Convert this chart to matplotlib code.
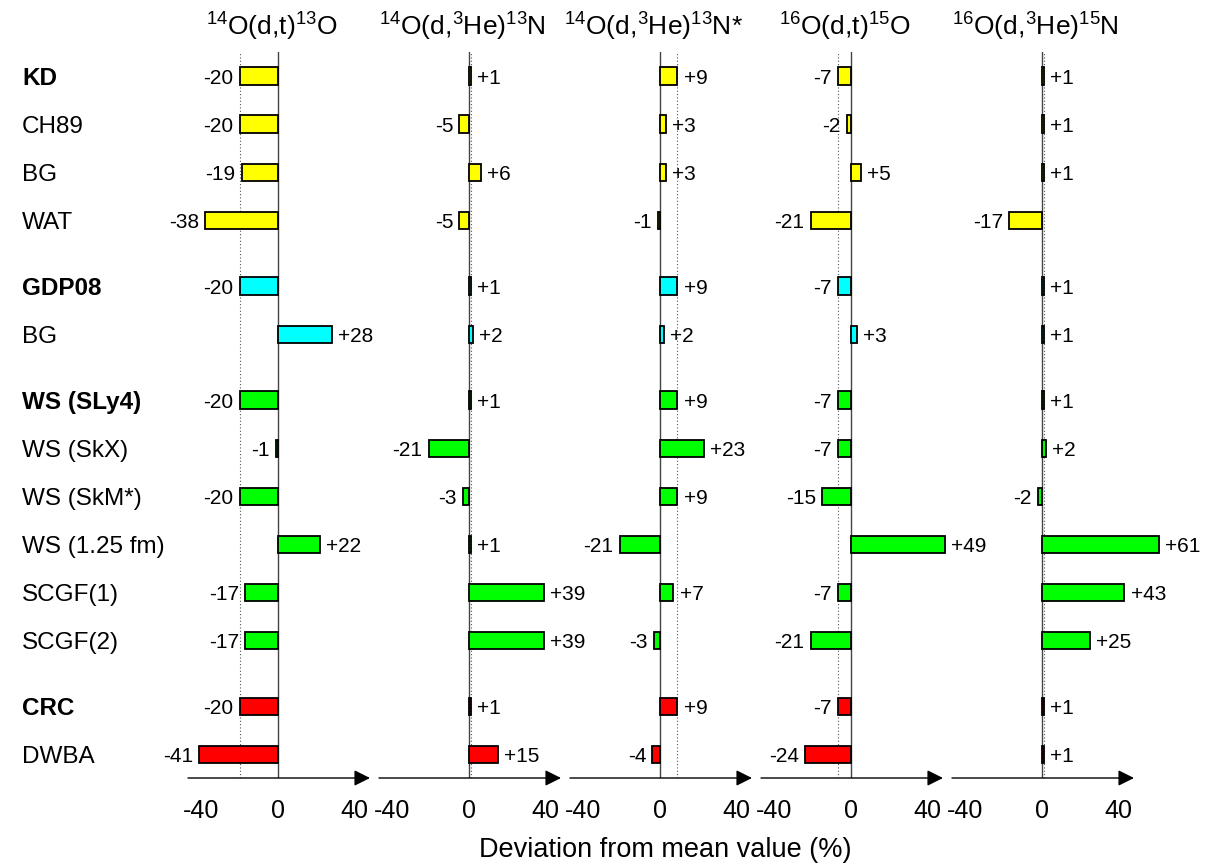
import matplotlib
matplotlib.use('Agg')
import matplotlib.pyplot as plt
import matplotlib.transforms as mtransforms

plt.rcParams['font.family'] = ['Liberation Sans', 'DejaVu Sans']
plt.rcParams['mathtext.fontset'] = 'custom'
plt.rcParams['mathtext.rm'] = 'Liberation Sans'
plt.rcParams['mathtext.it'] = 'Liberation Sans:italic'

# row labels, grouped
groups = [
    ['KD', 'CH89', 'BG', 'WAT'],
    ['GDP08', 'BG'],
    ['WS (SLy4)', 'WS (SkX)', 'WS (SkM*)', 'WS (1.25 fm)', 'SCGF(1)', 'SCGF(2)'],
    ['CRC', 'DWBA'],
]
bold_labels = ['KD', 'GDP08', 'WS (SLy4)', 'CRC']
group_colors = ['#ffff00', '#00ffff', '#00ff00', '#ff0000']

titles = [
    r'$^{14}$O(d,t)$^{13}$O',
    r'$^{14}$O(d,$^{3}$He)$^{13}$N',
    r'$^{14}$O(d,$^{3}$He)$^{13}$N*',
    r'$^{16}$O(d,t)$^{15}$O',
    r'$^{16}$O(d,$^{3}$He)$^{15}$N',
]

o14_dt = [-20, -20, -19, -38, -20, 28, -20, -1, -20, 22, -17, -17, -20, -41]
o14_d3he = [1, -5, 6, -5, 1, 2, 1, -21, -3, 1, 39, 39, 1, 15]
o14_d3he_star = [9, 3, 3, -1, 9, 2, 9, 23, 9, -21, 7, -3, 9, -4]
o16_dt = [-7, -2, 5, -21, -7, 3, -7, -7, -15, 49, -7, -21, -7, -24]
o16_d3he = [1, 1, 1, -17, 1, 1, 1, 2, -2, 61, 43, 25, 1, 1]
panels = [o14_dt, o14_d3he, o14_d3he_star, o16_dt, o16_d3he]

xticks = [-40, 0, 40]

# layout: rows with a gap between groups
gap = 0.37
ypos, labels, colors = [], [], []
y = 0.0
for g, names in enumerate(groups):
    for name in names:
        ypos.append(y)
        labels.append(name)
        colors.append(group_colors[g])
        y += 1
    y += gap

W, H = 1217, 864
fig = plt.figure(figsize=(W / 100, H / 100), dpi=100)

xmin, xmax = -47, 48
ax_w = 182
ax_bottom = 1 - 778 / H
ax_top = 1 - 52 / H

axes = []
for i, vals in enumerate(panels):
    left = 188 + 191 * i
    ax = fig.add_axes([left / W, ax_bottom, ax_w / W, ax_top - ax_bottom])
    ax.patch.set_visible(False)
    axes.append(ax)
    ax.set_xlim(xmin, xmax)
    ax.set_ylim(14.6, -0.5)
    for s in ax.spines.values():
        s.set_visible(False)
    ax.set_yticks([])
    ax.set_xticks(xticks)
    ax.set_xticklabels(['%d' % t for t in xticks], fontsize=18)
    ax.tick_params(axis='x', length=0, pad=15)

    ax.axvline(0, color='#444444', lw=1.0, zorder=1)
    ax.axvline(vals[0], color='#555555', lw=0.8, ls=(0, (1, 2)), zorder=1)

    ax.barh(ypos, vals, height=0.36, color=colors, edgecolor='black',
            linewidth=1.3, zorder=3, clip_on=False)
    for yy, v in zip(ypos, vals):
        if v >= 0:
            ax.annotate('+%d' % v, (v, yy), xytext=(4.5, 0), textcoords='offset points',
                        ha='left', va='center_baseline', fontsize=15, annotation_clip=False)
        else:
            ax.annotate('%d' % v, (v, yy), xytext=(-4.5, 0), textcoords='offset points',
                        ha='right', va='center_baseline', fontsize=15, annotation_clip=False)

    ax.annotate('', xy=(1, 0), xytext=(0, 0), xycoords='axes fraction',
                arrowprops=dict(arrowstyle='-|>', color='black', lw=1.0,
                                mutation_scale=24, shrinkA=0, shrinkB=0))
    ax.set_title(titles[i], fontsize=19, pad=12, x=0.46)

# row labels on the left
trans = mtransforms.blended_transform_factory(fig.transFigure, axes[0].transData)
for yy, name in zip(ypos, labels):
    axes[0].text(22 / W, yy, name, transform=trans, ha='left', va='center_baseline',
                 fontsize=17.5, fontweight='bold' if name in bold_labels else 'normal')

fig.text(665 / W, 1 - 850 / H, 'Deviation from mean value (%)', ha='center',
         va='center', fontsize=19.5)

fig.savefig('out.png', dpi=100)
